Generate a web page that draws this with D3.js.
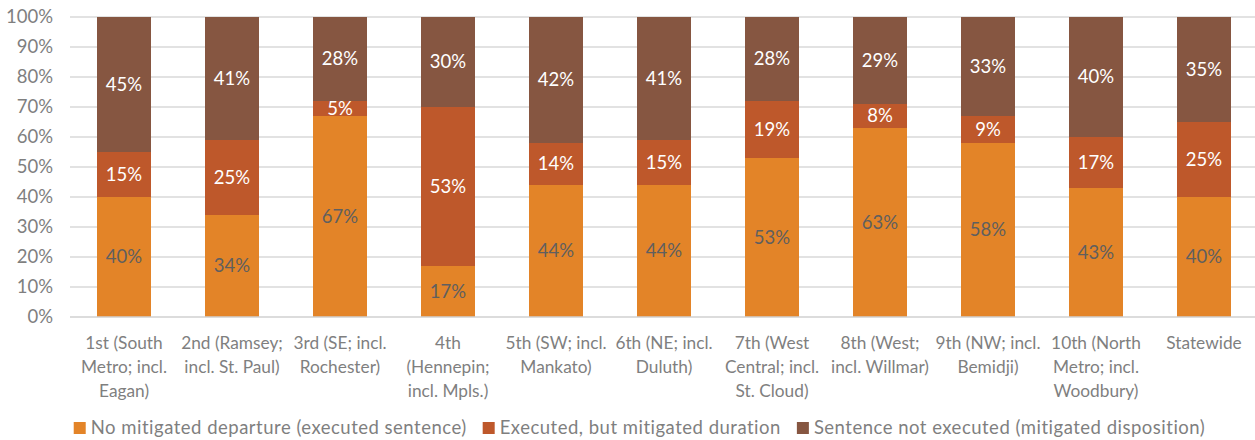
<!DOCTYPE html>
<html><head><meta charset="utf-8">
<script src="https://cdn.jsdelivr.net/npm/d3@7"></script>
<style>
html,body{margin:0;padding:0;background:#fff;}
svg{display:block;font-family:Lato,"Open Sans",sans-serif;}
</style></head>
<body><svg id="chart" width="1255" height="440"></svg>
<script>
const categories = [
  "1st (South\nMetro; incl.\nEagan)",
  "2nd (Ramsey;\nincl. St. Paul)",
  "3rd (SE; incl.\nRochester)",
  "4th\n(Hennepin;\nincl. Mpls.)",
  "5th (SW; incl.\nMankato)",
  "6th (NE; incl.\nDuluth)",
  "7th (West\nCentral; incl.\nSt. Cloud)",
  "8th (West;\nincl. Willmar)",
  "9th (NW; incl.\nBemidji)",
  "10th (North\nMetro; incl.\nWoodbury)",
  "Statewide"
];
const seriesNames = [
  "No mitigated departure (executed sentence)",
  "Executed, but mitigated duration",
  "Sentence not executed (mitigated disposition)"
];
const noDeparture   = [40, 34, 67, 17, 44, 44, 53, 63, 58, 43, 40];
const mitigatedDur  = [15, 25, 5, 53, 14, 15, 19, 8, 9, 17, 25];
const notExecuted   = [45, 41, 28, 30, 42, 41, 28, 29, 33, 40, 35];
const yTicks = [0, 10, 20, 30, 40, 50, 60, 70, 80, 90, 100];

const colors = ["#E38428", "#BE582B", "#865641"];
const labelColors = ["#5f5f5f", "#ffffff", "#ffffff"];

const svg = d3.select("#chart");
const margin = {left: 70, right: 1258, top: 17, bottom: 317};
const fs = 18.5;
const fsCat = 17.3;

const x = d3.scaleBand().domain(d3.range(categories.length))
  .range([margin.left, margin.right]).paddingInner(0.5).paddingOuter(0.25);
const y = d3.scaleLinear().domain([0, 100]).range([margin.bottom, margin.top]);

// gridlines
svg.append("g").selectAll("line").data(yTicks.filter(t => t > 0)).join("line")
  .attr("x1", margin.left).attr("x2", 1255)
  .attr("y1", d => y(d)).attr("y2", d => y(d))
  .attr("stroke", "#d9d9d9").attr("stroke-width", 1.3);

// y axis
const yAxis = d3.axisLeft(y).tickValues(yTicks).tickFormat(d => d + "%").tickSize(0).tickPadding(17);
const gy = svg.append("g").attr("transform", `translate(${margin.left},0)`).call(yAxis);
gy.select(".domain").remove();
gy.selectAll("text").attr("fill", "#7f7f7f").attr("font-size", fs).attr("font-family", "Lato");

// stacked data
const rows = categories.map((c, i) => ({i, a: noDeparture[i], b: mitigatedDur[i], c: notExecuted[i]}));
const stack = d3.stack().keys(["a", "b", "c"]);
const stacked = stack(rows);

const gBars = svg.append("g");
stacked.forEach((layer, k) => {
  gBars.append("g").selectAll("rect").data(layer).join("rect")
    .attr("x", d => x(d.data.i))
    .attr("width", x.bandwidth())
    .attr("y", d => y(d[1]))
    .attr("height", d => y(d[0]) - y(d[1]))
    .attr("fill", colors[k]);
});
// labels
stacked.forEach((layer, k) => {
  gBars.append("g").selectAll("text").data(layer).join("text")
    .attr("x", d => x(d.data.i) + x.bandwidth() / 2)
    .attr("y", d => (y(d[0]) + y(d[1])) / 2)
    .attr("dy", "0.35em")
    .attr("text-anchor", "middle")
    .attr("font-size", fs)
    .attr("fill", labelColors[k])
    .text(d => (d[1] - d[0]) + "%");
});

// x axis baseline
svg.append("line").attr("x1", margin.left).attr("x2", 1255)
  .attr("y1", y(0)).attr("y2", y(0)).attr("stroke", "#d0d0d0").attr("stroke-width", 1.5);

// x axis labels
const xAxis = d3.axisBottom(x).tickSize(0).tickFormat("");
const gx = svg.append("g").attr("transform", `translate(0,${y(0)})`).call(xAxis);
gx.select(".domain").remove();
gx.selectAll(".tick").each(function(d) {
  const lines = categories[d].split("\n");
  const t = d3.select(this).append("text").attr("text-anchor", "middle")
    .attr("fill", "#7f7f7f").attr("font-size", fsCat).attr("font-family", "Lato");
  lines.forEach((ln, j) => {
    t.append("tspan").attr("x", 0).attr("y", 32 + j * 24).text(ln);
  });
});

// legend
const legend = svg.append("g");
const items = [];
seriesNames.forEach((name, k) => {
  const g = legend.append("g");
  g.append("rect").attr("x", 0).attr("y", -6).attr("width", 12).attr("height", 12).attr("fill", colors[k]);
  const t = g.append("text").attr("x", 17).attr("dy", "0.35em").attr("font-size", fs)
    .attr("letter-spacing", 0.5)
    .attr("fill", "#7f7f7f").text(name);
  const w = 17 + t.node().getComputedTextLength();
  items.push({g, w});
});
const gap = 16;
const total = d3.sum(items, d => d.w) + gap * (items.length - 1);
let start = (76 + 1203) / 2 - total / 2;
items.forEach(it => {
  it.g.attr("transform", `translate(${start},428)`);
  start += it.w + gap;
});
</script>
</body></html>
